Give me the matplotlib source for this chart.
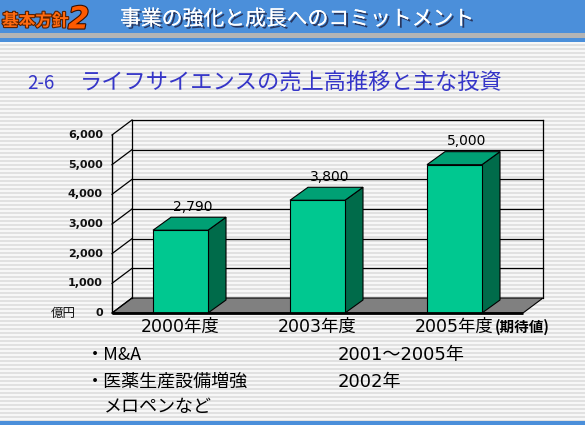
import numpy as np
import matplotlib
matplotlib.use('Agg')
import matplotlib.pyplot as plt
from matplotlib.patches import Polygon, Rectangle
import matplotlib.patheffects as pe

plt.rcParams['font.family'] = ['Noto Sans CJK JP', 'DejaVu Sans']
WIDE = ['DejaVu Sans', 'Noto Sans CJK JP']

# ---------------- data ----------------
categories = ['2000年度', '2003年度', '2005年度']
category_notes = ['', '', '(期待値)']
sales = [2790, 3800, 5000]
value_labels = ['2,790', '3,800', '5,000']
y_ticks = [0, 1000, 2000, 3000, 4000, 5000, 6000]
y_tick_labels = ['0', '1,000', '2,000', '3,000', '4,000', '5,000', '6,000']
unit_label = '億円'
header_tag = '基本方針'
header_num = '2'
header_title = '事業の強化と成長へのコミットメント'
section_num = '2-6'
section_title = 'ライフサイエンスの売上高推移と主な投資'
investments = ['・M&A', '・医薬生産設備増強', 'メロペンなど']
investment_years = ['2001～2005年', '2002年', '']

# ---------------- styles ----------------
BLUE = '#4b8fda'
TITLE_BLUE = '#3535c8'
FRONT = '#00c890'
TOP = '#00a074'
SIDE = '#006b4a'
FLOOR = '#808080'

W, H = 585, 425
fig = plt.figure(figsize=(W / 100, H / 100), dpi=100)

# background axes in pixel coordinates
bg = fig.add_axes([0, 0, 1, 1])
bg.set_xlim(0, W)
bg.set_ylim(H, 0)
bg.axis('off')

rows = np.arange(H)
stripe = np.where((rows // 2) % 2 == 0, 0.885, 0.97)
img = np.repeat(stripe[:, None, None], 3, axis=2)
bg.imshow(img, extent=[0, W, H, 0], aspect='auto', interpolation='nearest', zorder=0)

bg.add_patch(Rectangle((0, 0), W, 33, color=BLUE, zorder=1, lw=0))
bg.add_patch(Rectangle((0, 33), W, 5, color='#b4b4b4', zorder=1, lw=0))
bg.add_patch(Rectangle((0, 38), W, 4, color=BLUE, zorder=1, lw=0))
bg.add_patch(Rectangle((0, 421), W, 4, color=BLUE, zorder=1, lw=0))

bg.text(2, 21, header_tag, fontsize=12, fontweight='bold', color='#ff6a10',
        va='center', ha='left', zorder=2,
        path_effects=[pe.withStroke(linewidth=1.6, foreground='#5a2000')])
bg.text(68, 20, header_num, fontsize=22, fontweight='bold', style='italic',
        color='#ff5a00', va='center', ha='left', zorder=2, family=WIDE,
        path_effects=[pe.withStroke(linewidth=1.6, foreground='#3a1000')])
bg.text(120, 19, header_title, fontsize=15, color='white', va='center', ha='left',
        zorder=2, path_effects=[pe.withSimplePatchShadow(offset=(1.5, -1.5),
                                                         shadow_rgbFace='#202040', alpha=0.8),
                                pe.Normal()])

bg.text(27, 83, section_num, fontsize=13.5, color=TITLE_BLUE, va='center', ha='left', zorder=2)
bg.text(80, 83, section_title, fontsize=16, color=TITLE_BLUE, va='center', ha='left', zorder=2)

inv_x = [86, 86, 104]
inv_y = [355, 382, 407]
for txt, yr, x, y in zip(investments, investment_years, inv_x, inv_y):
    bg.text(x, y, txt, fontsize=13, color='black', va='center', ha='left', zorder=2)
    if yr:
        bg.text(338, y, yr, fontsize=13, color='black', va='center', ha='left', zorder=2,
                family=WIDE)

# ---------------- chart axes (front plane) ----------------
left_px, right_px, bottom_px, top_px = 112, 523, 313, 135
ax = fig.add_axes([left_px / W, (H - bottom_px) / H,
                   (right_px - left_px) / W, (bottom_px - top_px) / H])
ax.set_xlim(-0.5, len(categories) - 0.5)
ax.set_ylim(0, 6000)
ax.axis('off')
ax.patch.set_alpha(0)

px_per_x = (right_px - left_px) / len(categories)
px_per_y = (bottom_px - top_px) / 6000.0
DX, DY = 20 / px_per_x, 15 / px_per_y          # wall depth
BDX, BDY = 18 / px_per_x, 13 / px_per_y        # bar depth
BW = 55 / px_per_x

x0, x1 = -0.5, len(categories) - 0.5
ymax = y_ticks[-1]

# floor
ax.add_patch(Polygon([(x0, 0), (x1, 0), (x1 + DX, DY), (x0 + DX, DY)],
                     closed=True, fc=FLOOR, ec='black', lw=0.8, clip_on=False, zorder=1))

# gridlines on back wall and left wall
for t in y_ticks:
    ax.plot([x0, x0 + DX], [t, t + DY], color='black', lw=0.9, clip_on=False, zorder=2)
    if t > 0:
        ax.plot([x0 + DX, x1 + DX], [t + DY, t + DY], color='black', lw=0.9,
                clip_on=False, zorder=2)
ax.plot([x0 + DX, x0 + DX], [DY, ymax + DY], color='black', lw=0.9, clip_on=False, zorder=2)
ax.plot([x1 + DX, x1 + DX], [DY, ymax + DY], color='black', lw=0.9, clip_on=False, zorder=2)
ax.plot([x0, x0], [0, ymax], color='black', lw=1.0, clip_on=False, zorder=2)

# tick labels
for t, lab in zip(y_ticks, y_tick_labels):
    ax.annotate(lab, xy=(x0, t), xytext=(-6.5, 0), textcoords='offset points',
                ha='right', va='center', fontsize=8, fontweight='bold', color='#111111',
                family=WIDE)
ax.annotate(unit_label, xy=(x0, 0), xytext=(-35, 0), textcoords='offset points',
            ha='center', va='center', fontsize=9, color='#111111')

# bars
for i, v in enumerate(sales):
    l, r = i - BW / 2, i + BW / 2
    ax.add_patch(Polygon([(r, 0), (r + BDX, BDY), (r + BDX, v + BDY), (r, v)],
                         closed=True, fc=SIDE, ec='black', lw=0.8, clip_on=False, zorder=3))
    ax.add_patch(Polygon([(l, v), (r, v), (r + BDX, v + BDY), (l + BDX, v + BDY)],
                         closed=True, fc=TOP, ec='black', lw=0.8, clip_on=False, zorder=3))
    ax.add_patch(Rectangle((l, 0), BW, v, fc=FRONT, ec='black', lw=0.8,
                           clip_on=False, zorder=4))

# floor front edge
ax.plot([x0, x1], [0, 0], color='black', lw=2.0, clip_on=False, zorder=5, solid_capstyle='butt')

# value labels
for i, (v, lab) in enumerate(zip(sales, value_labels)):
    ax.annotate(lab, xy=(i + BDX / 2, v + BDY), xytext=(2, 4.5), textcoords='offset points',
                ha='center', va='baseline', fontsize=10, color='black', family=WIDE)

# category labels
for i, (cat, note) in enumerate(zip(categories, category_notes)):
    t = ax.annotate(cat, xy=(i, 0), xytext=(0, -10), textcoords='offset points',
                    ha='center', va='center', fontsize=12.5, color='black', family=WIDE)
    if note:
        ax.annotate(note, xy=(1, 0.5), xycoords=t, xytext=(0.5, 0), textcoords='offset points',
                    ha='left', va='center', fontsize=10.5, color='black', fontweight='bold')

fig.savefig('out.png', dpi=100)
